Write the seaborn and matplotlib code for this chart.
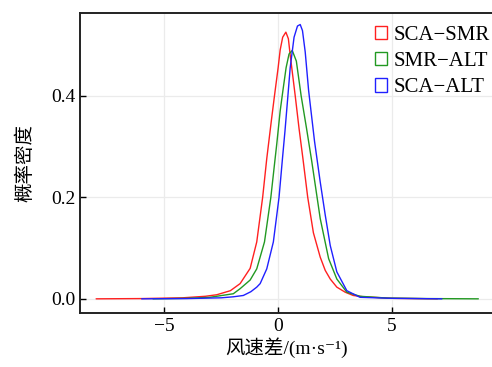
"""Density curves of wind-speed differences between three instruments."""

import matplotlib.patches as mpatches
import matplotlib.pyplot as plt
import pandas as pd
import seaborn as sns

LABELS = ["SCA\u2212SMR", "SMR\u2212ALT", "SCA\u2212ALT"]
COLORS = ["#ff2020", "#229922", "#2020ff"]

# values
SCA_SMR_X = [-8.0, -6.0, -4.2, -3.2, -2.7, -2.1, -1.67, -1.23, -0.94, -0.68, -0.5,
             -0.3, -0.16, 0.0, 0.09, 0.2, 0.34, 0.45, 0.53, 0.75, 0.92, 1.09, 1.3,
             1.55, 1.85, 2.07, 2.29, 2.58, 2.95, 3.3, 3.75, 5.0, 7.0]
SCA_SMR_Y = [0.0, 0.0005, 0.002, 0.005, 0.008, 0.016, 0.030, 0.060, 0.112, 0.200, 0.276,
             0.350, 0.400, 0.455, 0.490, 0.515, 0.525, 0.512, 0.480, 0.400, 0.335, 0.276, 0.200,
             0.130, 0.082, 0.056, 0.039, 0.023, 0.013, 0.0066, 0.004, 0.001, 0.0]

SMR_ALT_X = [-5.5, -4.0, -3.0, -1.97, -1.67, -1.23, -0.94, -0.6, -0.32, -0.16, -0.06,
             0.09, 0.21, 0.35, 0.48, 0.62, 0.8, 1.01, 1.25, 1.48, 1.85, 2.22, 2.58,
             3.02, 3.6, 4.8, 6.5, 8.8]
SMR_ALT_Y = [0.0, 0.001, 0.003, 0.010, 0.020, 0.037, 0.059, 0.112, 0.200, 0.265, 0.305,
             0.370, 0.410, 0.455, 0.482, 0.489, 0.468, 0.400, 0.335, 0.270, 0.158, 0.079, 0.039,
             0.013, 0.005, 0.0015, 0.0005, 0.0]

SCA_ALT_X = [-6.0, -4.0, -2.5, -1.97, -1.53, -1.2, -0.94, -0.79, -0.5, -0.21, 0.04,
             0.19, 0.3, 0.43, 0.53, 0.7, 0.85, 0.97, 1.07, 1.19, 1.34, 1.6, 1.85,
             2.07, 2.29, 2.58, 3.02, 3.6, 5.0, 7.2]
SCA_ALT_Y = [0.0, 0.0005, 0.002, 0.004, 0.0066, 0.014, 0.023, 0.030, 0.059, 0.112, 0.200,
             0.276, 0.330, 0.400, 0.455, 0.515, 0.537, 0.540, 0.528, 0.486, 0.410, 0.310, 0.230,
             0.165, 0.105, 0.053, 0.016, 0.003, 0.001, 0.0]


def build_frame():
    parts = []
    for label, xs, ys in zip(LABELS,
                             [SCA_SMR_X, SMR_ALT_X, SCA_ALT_X],
                             [SCA_SMR_Y, SMR_ALT_Y, SCA_ALT_Y]):
        parts.append(pd.DataFrame({"diff": xs, "density": ys, "pair": label}))
    return pd.concat(parts, ignore_index=True)


def main():
    data = build_frame()
    sns.set_theme(style="ticks")
    plt.rcParams["font.family"] = ["Liberation Serif", "Noto Sans CJK SC", "DejaVu Sans"]
    plt.rcParams["text.color"] = "black"
    plt.rcParams["axes.labelcolor"] = "black"

    fig = plt.figure(figsize=(4.92, 3.67), dpi=100)
    ax = fig.add_axes([0.163, 0.147, 0.837, 0.818])

    sns.lineplot(data=data, x="diff", y="density", hue="pair", hue_order=LABELS,
                 palette=COLORS, sort=False, linewidth=1.0, legend=False, ax=ax)

    ax.set_xlim(-8.7, 9.4)
    ax.set_ylim(-0.028, 0.563)
    ax.set_xticks([-5, 0, 5])
    ax.set_yticks([0.0, 0.2, 0.4])
    ax.set_xticklabels(["\u22125", "0", "5"])
    ax.set_yticklabels(["0.0", "0.2", "0.4"])
    ax.grid(True, color="#ebebeb", linewidth=0.9)
    ax.tick_params(direction="in", length=4, width=1.0, labelsize=14, colors="black",
                   top=False, right=False)
    for side in ["left", "bottom", "top"]:
        ax.spines[side].set_linewidth(1.4)
        ax.spines[side].set_color("#222222")
    ax.spines["right"].set_visible(False)

    ax.set_xlabel("风速差/(m·s\u207b\u00b9)", fontsize=14, labelpad=2)
    ax.set_ylabel("概率密度", fontsize=14, labelpad=12)

    handles = [mpatches.Patch(facecolor="none", edgecolor=c, linewidth=1.0, label=l)
               for l, c in zip(LABELS, COLORS)]
    ax.legend(handles=handles, loc="upper right", bbox_to_anchor=(1.015, 0.985),
              frameon=False, fontsize=15, handlelength=0.6, handleheight=0.6,
              handletextpad=0.3, labelspacing=0.35, borderaxespad=0.0,
              labelcolor="black")

    fig.savefig("out.png", dpi=100)
    plt.close(fig)


if __name__ == "__main__":
    main()
